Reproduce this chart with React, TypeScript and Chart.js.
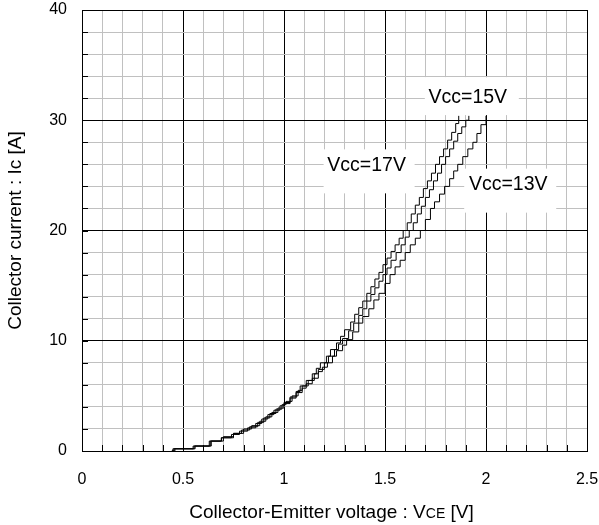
import React, { useEffect, useRef } from "react";
import { Chart, registerables } from "chart.js";

Chart.register(...registerables);

// Vcc = 17V (leftmost curve)
const vcc17X = [0.445, 0.45, 0.55, 0.64, 0.69, 0.74, 0.78, 0.82, 0.86, 0.89, 0.92, 0.95, 0.98, 1.0, 1.03, 1.06, 1.08, 1.11, 1.14, 1.16, 1.18, 1.21, 1.23, 1.26, 1.28, 1.3, 1.33, 1.35, 1.37, 1.39, 1.41, 1.43, 1.45, 1.47, 1.49, 1.51, 1.53, 1.55, 1.57, 1.59, 1.61, 1.63, 1.65, 1.67, 1.69, 1.71, 1.73, 1.75, 1.77, 1.79, 1.81, 1.83, 1.85, 1.865];
const vcc17Y = [0, 0.2, 0.45, 0.9, 1.2, 1.5, 1.8, 2.1, 2.5, 2.9, 3.3, 3.7, 4.1, 4.4, 4.9, 5.4, 5.9, 6.4, 7.0, 7.5, 8.0, 8.6, 9.2, 9.8, 10.4, 11.0, 11.7, 12.4, 13.0, 13.6, 14.3, 14.9, 15.6, 16.2, 16.9, 17.5, 18.1, 18.7, 19.3, 20.0, 20.7, 21.5, 22.3, 23.0, 23.8, 24.5, 25.2, 26.0, 26.7, 27.4, 28.2, 28.9, 29.7, 30.4];

// Vcc = 15V (middle curve)
const vcc15X = [0.445, 0.46, 0.56, 0.63, 0.7, 0.75, 0.79, 0.83, 0.87, 0.9, 0.93, 0.96, 0.99, 1.01, 1.04, 1.07, 1.09, 1.12, 1.15, 1.17, 1.2, 1.22, 1.25, 1.27, 1.29, 1.32, 1.345, 1.37, 1.39, 1.41, 1.43, 1.45, 1.47, 1.49, 1.51, 1.53, 1.555, 1.58, 1.6, 1.62, 1.64, 1.66, 1.68, 1.7, 1.72, 1.74, 1.76, 1.78, 1.8, 1.82, 1.84, 1.86, 1.88, 1.9, 1.915];
const vcc15Y = [0, 0.2, 0.45, 0.9, 1.3, 1.6, 1.9, 2.2, 2.6, 3.0, 3.4, 3.8, 4.2, 4.5, 5.0, 5.5, 5.9, 6.4, 7.0, 7.4, 8.0, 8.6, 9.2, 9.7, 10.2, 10.9, 11.6, 12.3, 12.9, 13.6, 14.2, 14.8, 15.4, 16.0, 16.6, 17.3, 18.0, 18.7, 19.4, 20.0, 20.7, 21.5, 22.2, 23.0, 23.7, 24.5, 25.2, 26.0, 26.7, 27.4, 28.1, 28.8, 29.4, 30.0, 30.4];

// Vcc = 13V (rightmost curve)
const vcc13X = [0.445, 0.455, 0.555, 0.635, 0.69, 0.75, 0.8, 0.84, 0.88, 0.91, 0.94, 0.97, 1.0, 1.03, 1.06, 1.09, 1.11, 1.14, 1.17, 1.19, 1.215, 1.24, 1.26, 1.29, 1.31, 1.34, 1.37, 1.39, 1.42, 1.445, 1.47, 1.5, 1.525, 1.55, 1.575, 1.6, 1.625, 1.65, 1.675, 1.7, 1.725, 1.745, 1.77, 1.795, 1.82, 1.84, 1.86, 1.885, 1.91, 1.935, 1.955, 1.975, 2.0];
const vcc13Y = [0, 0.2, 0.45, 0.9, 1.2, 1.6, 2.0, 2.3, 2.7, 3.1, 3.5, 3.9, 4.3, 4.8, 5.3, 5.7, 6.1, 6.6, 7.2, 7.6, 8.0, 8.6, 9.1, 9.6, 10.1, 10.8, 11.6, 12.2, 12.9, 13.7, 14.3, 15.2, 16.0, 16.7, 17.3, 18.0, 18.7, 19.3, 20.0, 21.0, 22.0, 22.6, 23.3, 24.0, 24.7, 25.4, 26.0, 26.7, 27.4, 28.0, 28.8, 29.6, 30.4];

// Curve annotations (text and anchor in data coordinates)
const labelTexts = ["Vcc=15V", "Vcc=17V", "Vcc=13V"];
const labelX = [1.91, 1.409, 2.11];
const labelY = [32.1, 26.0, 24.25];

// Axis ranges / titles
const xMin = 0;
const xMax = 2.5;
const yMin = 0;
const yMax = 40;
const yTitle = "Collector current : Ic [A]";
const xTitleParts = ["Collector-Emitter voltage : V", "CE", " [V]"];

const FONT = '"Liberation Sans", Arial, sans-serif';

const toPoints = (xs: number[], ys: number[]) => xs.map((x, i) => ({ x, y: ys[i] }));

const annotationPlugin = {
  id: "annot",
  afterDatasetsDraw(chart: any) {
    const { ctx, scales } = chart;
    const xs = scales.x;
    const ys = scales.y;
    ctx.save();
    ctx.font = `19.5px ${FONT}`;
    ctx.textAlign = "center";
    ctx.textBaseline = "middle";
    // box extents relative to text centre [left, top, right, bottom]
    const boxes = [
      [-43, -20, 51, 18],
      [-43, -15, 48, 29],
      [-44, -15, 48, 29],
    ];
    labelTexts.forEach((t, i) => {
      const px = xs.getPixelForValue(labelX[i]);
      const py = ys.getPixelForValue(labelY[i]);
      const b = boxes[i];
      ctx.fillStyle = "#ffffff";
      ctx.fillRect(px + b[0], py + b[1], b[2] - b[0], b[3] - b[1]);
      ctx.fillStyle = "#000000";
      ctx.fillText(t, px, py + 1);
    });
    ctx.restore();
  },
  afterDraw(chart: any) {
    const { ctx, chartArea, scales } = chart;
    const xs = scales.x;
    const ys = scales.y;
    ctx.save();
    // inward tick marks
    ctx.strokeStyle = "#000000";
    ctx.lineWidth = 1;
    ctx.beginPath();
    for (let v = 0; v <= 40; v += 2) {
      const py = Math.round(ys.getPixelForValue(v)) + 0.5;
      ctx.moveTo(chartArea.left, py);
      ctx.lineTo(chartArea.left + 6, py);
    }
    for (let k = 0; k <= 25; k++) {
      const px = Math.round(xs.getPixelForValue(k / 10)) + 0.5;
      ctx.moveTo(px, chartArea.bottom);
      ctx.lineTo(px, chartArea.bottom - 6);
    }
    ctx.stroke();

    // x title with small-caps subscript
    ctx.fillStyle = "#000000";
    ctx.textBaseline = "alphabetic";
    ctx.textAlign = "left";
    const bigFont = `19px ${FONT}`;
    const smallFont = `14px ${FONT}`;
    ctx.font = bigFont;
    const w1 = ctx.measureText(xTitleParts[0]).width;
    const w3 = ctx.measureText(xTitleParts[2]).width;
    ctx.font = smallFont;
    const w2 = ctx.measureText(xTitleParts[1]).width;
    const total = w1 + w2 + w3;
    const cx = (chartArea.left + chartArea.right) / 2 - 3;
    let x0 = cx - total / 2;
    const base = 518;
    ctx.font = bigFont;
    ctx.fillText(xTitleParts[0], x0, base);
    x0 += w1;
    ctx.font = smallFont;
    ctx.fillText(xTitleParts[1], x0, base);
    x0 += w2;
    ctx.font = bigFont;
    ctx.fillText(xTitleParts[2], x0, base);

    // y title
    ctx.translate(16, (chartArea.top + chartArea.bottom) / 2);
    ctx.rotate(-Math.PI / 2);
    ctx.textAlign = "center";
    ctx.textBaseline = "middle";
    ctx.font = bigFont;
    ctx.fillText(yTitle, 0, 0);
    ctx.restore();
  },
};

export default function App() {
  const ref = useRef<HTMLCanvasElement | null>(null);
  useEffect(() => {
    if (!ref.current) return;
    const lineStyle = {
      borderColor: "#000000",
      borderWidth: 1,
      pointRadius: 0,
      stepped: true,
      fill: false,
    };
    const chart = new Chart(ref.current, {
      type: "line",
      data: {
        datasets: [
          { label: "Vcc=17V", data: toPoints(vcc17X, vcc17Y), ...lineStyle },
          { label: "Vcc=15V", data: toPoints(vcc15X, vcc15Y), ...lineStyle },
          { label: "Vcc=13V", data: toPoints(vcc13X, vcc13Y), ...lineStyle },
        ] as any,
      },
      options: {
        animation: false,
        responsive: true,
        maintainAspectRatio: false,
        layout: { padding: { top: 10, left: 0, right: 0, bottom: 0 } },
        plugins: {
          legend: { display: false },
          tooltip: { enabled: false },
        },
        scales: {
          x: {
            type: "linear",
            min: xMin,
            max: xMax,
            afterFit: (s: any) => {
              s.height = 74;
              s.paddingLeft = 0;
              s.paddingRight = 12;
            },
            grid: {
              drawTicks: false,
              color: (c: any) =>
                Math.round(c.tick.value * 10) % 5 === 0 ? "#000000" : "#c0c0c0",
              lineWidth: 1,
            },
            border: { display: true, color: "#000000" },
            ticks: {
              stepSize: 0.1,
              autoSkip: false,
              maxRotation: 0,
              padding: 19,
              color: "#000000",
              font: { family: FONT, size: 16 },
              callback: (v: any) => {
                const r = Math.round(Number(v) * 10);
                return r % 5 === 0 ? String(r / 10) : "";
              },
            },
          },
          y: {
            type: "linear",
            min: yMin,
            max: yMax,
            afterFit: (s: any) => {
              s.width = 82;
              s.paddingTop = 0;
              s.paddingBottom = 0;
            },
            grid: {
              drawTicks: false,
              color: (c: any) =>
                Math.round(c.tick.value) % 10 === 0 ? "#000000" : "#c0c0c0",
              lineWidth: 1,
            },
            border: { display: true, color: "#000000" },
            ticks: {
              stepSize: 2,
              autoSkip: false,
              padding: 15,
              color: "#000000",
              font: { family: FONT, size: 16 },
              callback: (v: any) => {
                const r = Math.round(Number(v));
                return r % 10 === 0 ? String(r) : "";
              },
            },
          },
        },
      },
      plugins: [annotationPlugin],
    } as any);
    return () => chart.destroy();
  }, []);

  return (
    <div style={{ position: "absolute", left: 0, top: 0, width: 599, height: 525, background: "#ffffff" }}>
      <canvas ref={ref} />
    </div>
  );
}
